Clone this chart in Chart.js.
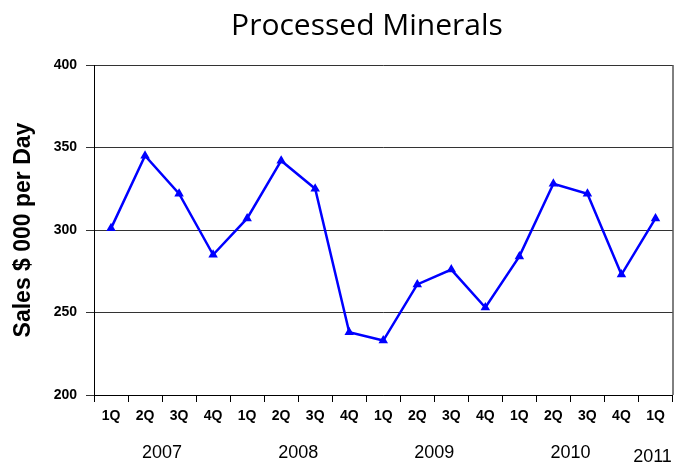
<!DOCTYPE html>
<html lang="en">
<head>
    <meta charset="UTF-8" />
    <title>Processed Minerals</title>
    <script src="https://cdn.jsdelivr.net/npm/chart.js@4.4.0/dist/chart.umd.min.js"></script>
    <style>
        body { margin: 0; background: #fff; }
        #wrap { width: 679px; height: 465px; }
    </style>
</head>
<body>
    <div id="wrap"><canvas id="chart" width="679" height="465"></canvas></div>

    <script>
        // quarters along the x axis
        const quarters = ['1Q', '2Q', '3Q', '4Q', '1Q', '2Q', '3Q', '4Q', '1Q', '2Q', '3Q', '4Q', '1Q', '2Q', '3Q', '4Q', '1Q'];
        // sales, $ 000 per day
        const sales = [301, 345, 322, 285, 307, 342, 325, 238, 233, 267, 276, 253, 284, 328, 322, 273, 307];
        // year labels under the quarters, with the first and last quarter index they span
        const years = ['2007', '2008', '2009', '2010', '2011'];
        const yearSpan = [[0, 3], [4, 7], [8, 11], [12, 15], [16, 16]];
        const yTicks = [200, 250, 300, 350, 400];

        // title, year row and the frame round the plot
        const extras = {
            id: 'extras',
            afterDraw(chart) {
                const ctx = chart.ctx;
                const x = chart.scales.x;
                const a = chart.chartArea;
                ctx.save();
                ctx.strokeStyle = '#000';
                ctx.lineWidth = 1;
                ctx.beginPath();
                ctx.moveTo(a.right + 0.5, a.top);
                ctx.lineTo(a.right + 0.5, a.bottom);
                ctx.stroke();

                ctx.fillStyle = '#000';
                ctx.textAlign = 'center';
                ctx.textBaseline = 'middle';
                ctx.font = '30px "Open Sans", sans-serif';
                ctx.fillText('Processed Minerals', 367, 26);

                ctx.font = '18px "Liberation Sans", Arial, sans-serif';
                years.forEach((y, i) => {
                    const s = yearSpan[i];
                    const px = (x.getPixelForValue(s[0]) + x.getPixelForValue(s[1])) / 2;
                    const last = i === years.length - 1;
                    ctx.fillText(y, last ? px - 3 : px, last ? 457 : 453);
                });
                ctx.restore();
            }
        };

        const ctx = document.getElementById('chart').getContext('2d');
        const myChart = new Chart(ctx, {
            type: 'line',
            data: {
                labels: quarters,
                datasets: [{
                    data: sales,
                    borderColor: '#0000ff',
                    backgroundColor: '#0000ff',
                    borderWidth: 2.5,
                    pointStyle: 'triangle',
                    pointRadius: 3,
                    tension: 0,
                    fill: false
                }]
            },
            options: {
                responsive: false,
                animation: false,
                layout: { padding: { top: 65, right: 3, left: 0, bottom: 0 } },
                plugins: {
                    legend: { display: false },
                    tooltip: { enabled: false }
                },
                scales: {
                    x: {
                        offset: true,
                        grid: {
                            offset: true,
                            drawOnChartArea: false,
                            color: '#000',
                            tickLength: 7
                        },
                        border: { color: '#000', width: 1 },
                        ticks: {
                            color: '#000',
                            padding: 6,
                            maxRotation: 0,
                            autoSkip: false,
                            font: { family: '"Liberation Sans", Arial, sans-serif', size: 14, weight: 'bold' }
                        },
                        afterFit(scale) { scale.height = 70; }
                    },
                    y: {
                        min: 200,
                        max: 400,
                        afterBuildTicks(scale) { scale.ticks = yTicks.map(v => ({ value: v })); },
                        grid: {
                            color: '#333',
                            tickLength: 8
                        },
                        border: { color: '#000', width: 1 },
                        ticks: {
                            color: '#000',
                            padding: 9,
                            font: { family: '"Liberation Sans", Arial, sans-serif', size: 14, weight: 'bold' }
                        },
                        title: {
                            display: true,
                            text: 'Sales $ 000 per Day',
                            color: '#000',
                            padding: { top: 10, bottom: 0 },
                            font: { family: '"Liberation Sans", Arial, sans-serif', size: 23, weight: 'bold' }
                        },
                        afterFit(scale) { scale.width = 94; }
                    }
                }
            },
            plugins: [extras]
        });
    </script>
</body>
</html>
